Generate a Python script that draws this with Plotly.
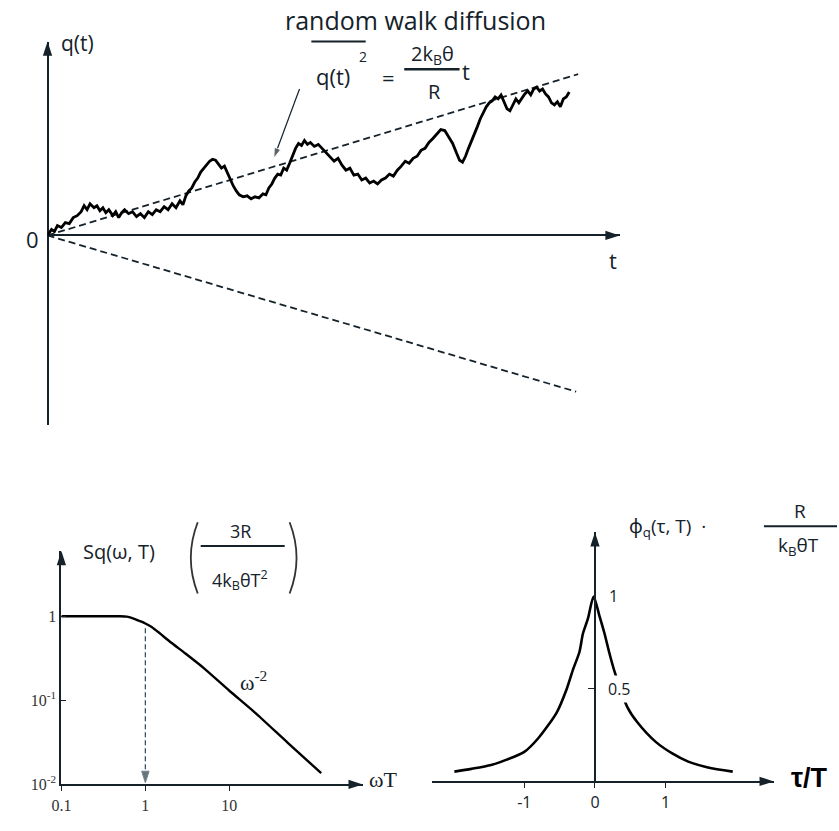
import plotly.graph_objects as go

# ---------------- data ----------------
# top panel: one realisation of the random walk q(t) (arbitrary units)
walk_t = [0, 0.4, 0.7, 1.0, 1.4, 1.8, 2.2, 2.6, 3.0, 3.4, 3.7, 4.0, 4.3, 4.7, 5.0, 5.3, 5.6, 5.9, 6.2, 6.6,
          6.9, 7.2, 7.5, 7.8, 8.2, 8.6, 9.0, 9.4, 9.8, 10.2, 10.6, 11.0, 11.4, 11.8, 12.2, 12.6, 13.0, 13.4, 13.7, 14.0,
          14.3, 14.6, 14.9, 15.2, 15.5, 15.8, 16.1, 16.4, 16.7, 17.0, 17.3, 17.6, 17.9, 18.2, 18.5, 18.8, 19.1, 19.4, 19.8, 20.2,
          20.6, 21.0, 21.4, 21.8, 22.1, 22.4, 22.7, 23.0, 23.3, 23.6, 23.9, 24.2, 24.5, 24.8, 25.1, 25.4, 25.7, 26.0, 26.3, 26.6,
          27.0, 27.4, 27.8, 28.2, 28.6, 29.0, 29.4, 29.8, 30.2, 30.6, 31.0, 31.4, 31.8, 32.2, 32.6, 33.0, 33.4, 33.8, 34.2, 34.6,
          35.0, 35.4, 35.8, 36.2, 36.6, 37.0, 37.4, 37.8, 38.2, 38.6, 39.0, 39.4, 39.8, 40.2, 40.6, 41.0, 41.4, 41.7, 42.0, 42.3,
          42.6, 42.9, 43.2, 43.5, 43.8, 44.1, 44.4, 44.7, 45.0, 45.3, 45.6, 45.9, 46.2, 46.5, 46.8, 47.1, 47.4, 47.7, 48.0, 48.3,
          48.6, 48.9, 49.2, 49.5, 49.8, 50.1, 50.4, 50.7, 51.0, 51.3, 51.6, 51.9, 52.2, 52.5, 52.8]
walk_q = [0, 0.6, 0.4, 1.0, 0.8, 1.3, 1.2, 1.8, 2.0, 2.4, 3.0, 2.6, 3.2, 2.8, 3.0, 2.5, 2.8, 2.3, 2.6, 2.0,
          2.4, 1.8, 2.3, 2.6, 2.2, 2.4, 1.9, 2.2, 1.8, 2.4, 2.1, 2.6, 2.4, 2.9, 2.6, 3.2, 2.8, 3.5, 3.1, 4.0,
          4.5, 4.8, 5.4, 5.8, 6.4, 6.8, 7.2, 7.5, 7.7, 7.6, 7.2, 6.8, 7.0, 6.3, 5.6, 5.0, 4.5, 4.1, 3.9, 4.0,
          3.7, 3.9, 3.8, 4.2, 4.1, 4.8, 5.2, 5.8, 6.2, 6.1, 6.8, 6.6, 7.3, 8.0, 8.8, 9.3, 9.1, 9.6, 9.2, 9.4,
          9.0, 9.2, 8.8, 8.3, 8.0, 7.5, 7.8, 7.1, 6.6, 6.8, 6.1, 6.2, 5.6, 5.8, 5.3, 5.5, 5.2, 5.6, 5.8, 6.2,
          6.0, 6.6, 7.0, 7.5, 7.3, 7.8, 8.0, 8.6, 8.8, 9.4, 9.8, 10.3, 10.7, 10.6, 10.0, 9.3, 8.3, 7.6, 7.4, 8.0,
          8.8, 9.5, 10.2, 11.0, 11.8, 12.4, 13.0, 13.4, 13.6, 14.0, 13.8, 14.2, 13.5, 12.8, 12.6, 13.2, 13.8, 13.4, 13.9, 14.3,
          14.6, 14.2, 14.8, 15.0, 14.6, 14.8, 14.3, 14.0, 13.4, 13.2, 13.5, 13.0, 13.8, 14.0, 14.5]
# diffusion envelopes as drawn (straight dashed lines)
env_up_t = [0, 53.7]
env_up_q = [0, 16.3]
env_dn_t = [0, 53.5]
env_dn_q = [0, -15.8]
# pointer from the formula to the envelope
pointer_t = [25.5, 22.9]
pointer_q = [14.8, 7.8]
top_t_range = [0, 57.9]
top_q_range = [-19.2, 19.6]

# bottom-left: spectral density S_q(omega, T), normalised, log-log
spec_w = [0.1, 0.3, 0.5, 0.6, 0.7, 0.8, 0.9, 1.0, 1.2, 1.5, 2.0, 3.0, 5.0, 10, 20, 50, 124]
spec_s = [1.0, 1.0, 1.0, 0.99, 0.95, 0.9, 0.86, 0.82, 0.74, 0.62, 0.49, 0.36, 0.24, 0.13, 0.072, 0.031, 0.0136]
corner_w = [1, 1]
corner_s = [0.72, 0.0105]
spec_w_ticks = [0.1, 1, 10]
spec_w_labels = ["0.1", "1", "10"]
spec_s_ticks = [0.01, 0.1, 1]
spec_s_labels = ["10<sup>-2</sup>", "10<sup>-1</sup>", "1"]
spec_logw_range = [-1, 2.588]
spec_logs_range = [-2, 0.776]

# bottom-right: correlation function phi_q(tau, T) normalised
corr_tau = [-1.99, -1.75, -1.47, -1.25, -1.0, -0.8, -0.54, -0.4, -0.31, -0.22, -0.17, -0.1, -0.02,
            0.06, 0.135, 0.2, 0.275, 0.46, 0.6, 0.86, 1.1, 1.32, 1.6, 1.95]
corr_phi = [0.053, 0.068, 0.089, 0.118, 0.16, 0.235, 0.374, 0.5, 0.606, 0.7, 0.80, 0.88, 1.0,
            0.9, 0.80, 0.70, 0.597, 0.401, 0.32, 0.214, 0.15, 0.107, 0.075, 0.053]
corr_tau_ticks = [-1, 0, 1]
corr_tau_labels = ["-1", "0", "1"]
corr_tau_range = [-2.308, 2.531]
corr_phi_range = [0, 1.348]

# ---------------- figure ----------------
W, H = 839, 831
INK = "#15222a"
SANS = "Open Sans, Noto Sans, sans-serif"
SERIF = "Liberation Serif, DejaVu Serif, serif"


def px(x):
    return x / W


def py(y):
    return 1 - y / H


fig = go.Figure()

dash = dict(color=INK, width=1.8, dash="7px,4px")
fig.add_trace(go.Scatter(x=env_up_t, y=env_up_q, mode="lines", line=dash, xaxis="x", yaxis="y"))
fig.add_trace(go.Scatter(x=env_dn_t, y=env_dn_q, mode="lines", line=dash, xaxis="x", yaxis="y"))
fig.add_trace(go.Scatter(x=walk_t, y=walk_q, mode="lines",
                         line=dict(color="#000000", width=2.8), xaxis="x", yaxis="y"))
fig.add_trace(go.Scatter(x=pointer_t, y=pointer_q, mode="lines+markers",
                         line=dict(color=INK, width=1.2),
                         marker=dict(symbol="arrow", size=[0, 11], angleref="previous", color=INK),
                         cliponaxis=False, xaxis="x", yaxis="y"))

fig.add_trace(go.Scatter(x=spec_w, y=spec_s, mode="lines",
                         line=dict(color="#000000", width=2.4, shape="spline", smoothing=0.6),
                         xaxis="x2", yaxis="y2"))
fig.add_trace(go.Scatter(x=corner_w, y=corner_s, mode="lines+markers",
                         line=dict(color="#3a4f5c", width=1.3, dash="5px,3px"),
                         marker=dict(symbol="arrow", size=[0, 12], angleref="previous", color="#2a3a44"),
                         cliponaxis=False, xaxis="x2", yaxis="y2"))

fig.add_trace(go.Scatter(x=corr_tau, y=corr_phi, mode="lines",
                         line=dict(color="#000000", width=2.6, shape="spline", smoothing=0.7),
                         xaxis="x3", yaxis="y3"))

# axis arrowheads placed at the ends of each axis range
arrow_mk = dict(symbol="arrow", size=15, color=INK, line=dict(width=0))
fig.add_trace(go.Scatter(x=[top_t_range[1], 0], y=[0, top_q_range[1]], mode="markers",
                         marker=dict(arrow_mk, angle=[90, 0]), cliponaxis=False, xaxis="x", yaxis="y"))
fig.add_trace(go.Scatter(x=[10 ** spec_logw_range[1], 10 ** spec_logw_range[0]],
                         y=[10 ** spec_logs_range[0], 10 ** spec_logs_range[1]], mode="markers",
                         marker=dict(arrow_mk, angle=[90, 0]), cliponaxis=False, xaxis="x2", yaxis="y2"))
fig.add_trace(go.Scatter(x=[corr_tau_range[1], 0], y=[corr_phi_range[0], corr_phi_range[1]], mode="markers",
                         marker=dict(arrow_mk, angle=[90, 0]), cliponaxis=False, xaxis="x3", yaxis="y3"))

top_dom_x = [px(38), px(617)]
top_dom_y = [py(430), py(42)]
bl_dom_x = [px(52), px(357)]
bl_dom_y = [py(793), py(557)]
br_dom_x = [px(427), px(773)]
br_dom_y = [py(790), py(538)]
br_yaxis_pos = px(592)

hidden = dict(showgrid=False, showticklabels=False, ticks="")
fig.update_layout(
    width=W, height=H, autosize=False, showlegend=False,
    margin=dict(l=0, r=0, t=0, b=0),
    paper_bgcolor="white", plot_bgcolor="white",
    font=dict(family=SANS, color=INK),
    xaxis=dict(domain=top_dom_x, range=top_t_range, anchor="y", zeroline=True,
               zerolinecolor=INK, zerolinewidth=2, showline=False, **hidden),
    yaxis=dict(domain=top_dom_y, range=top_q_range, anchor="x", zeroline=True,
               zerolinecolor=INK, zerolinewidth=2, showline=False, **hidden),
    xaxis2=dict(domain=bl_dom_x, type="log", range=spec_logw_range, anchor="y2",
                showline=True, linecolor=INK, linewidth=2, showgrid=False, zeroline=False,
                ticks="outside", ticklen=5, tickwidth=1.3, tickcolor=INK,
                tickvals=spec_w_ticks, ticktext=spec_w_labels,
                tickfont=dict(family=SERIF, size=16, color="#333")),
    yaxis2=dict(domain=bl_dom_y, type="log", range=spec_logs_range, anchor="x2",
                showline=True, linecolor=INK, linewidth=2, showgrid=False, zeroline=False,
                ticks="inside", ticklen=5, tickwidth=1.3, tickcolor=INK,
                tickvals=spec_s_ticks, ticktext=spec_s_labels,
                tickfont=dict(family=SERIF, size=16, color="#333")),
    xaxis3=dict(domain=br_dom_x, range=corr_tau_range, anchor="y3",
                showline=True, linecolor=INK, linewidth=2, showgrid=False, zeroline=False,
                ticks="outside", ticklen=5, tickwidth=1.3, tickcolor=INK,
                tickvals=corr_tau_ticks, ticktext=corr_tau_labels,
                tickfont=dict(family=SANS, size=16, color=INK)),
    yaxis3=dict(domain=br_dom_y, range=corr_phi_range, anchor="free", position=br_yaxis_pos,
                side="right", showline=True, linecolor=INK, linewidth=1.6, showgrid=False,
                zeroline=False, ticks="inside", ticklen=6, tickwidth=1.3, tickcolor=INK,
                tickvals=[0.5], showticklabels=False),
)

ann = []


def label(x, y, text, size, family=SANS, xanchor="center", yanchor="middle", **kw):
    ann.append(dict(x=px(x), y=py(y), xref="paper", yref="paper", text=text, showarrow=False,
                    xanchor=xanchor, yanchor=yanchor,
                    font=dict(family=family, size=size, color=kw.pop("color", INK)), **kw))


# top panel texts
label(68, 43, "q(t)", 21)
label(23, 242, "0", 22)
label(610, 263, "t", 22)
label(410, 20, "random walk diffusion", 25)
label(327, 77, "q(t)", 22)
label(357, 57, "2", 14)
label(383, 78, "=", 22)
label(428, 55, "2k<sub>B</sub>θ", 20)
label(430, 92, "R", 20)
label(462, 72, "t", 22)

# bottom-left texts
label(110, 558, "Sq(ω, T)", 20)
label(233, 537, "3R", 18)
label(233, 586, "4k<sub>B</sub>θT<sup>2</sup>", 18)
label(231, 688, "ω<sup>-2</sup>", 22, family=SERIF, xanchor="left")
label(378, 788, "ωT", 22, family=SERIF)

# bottom-right texts
label(624, 533, "ϕ<sub>q</sub>(τ, T)  ·", 19, xanchor="left")
label(800, 517, "R", 19)
label(798, 552, "k<sub>B</sub>θT", 19)
label(809, 787, "<b>τ/T</b>", 27, family="Liberation Sans, Arial, sans-serif", color="#000")
label(604, 603, "1", 16, xanchor="left")
label(602, 697, "0.5", 16, xanchor="left", bgcolor="white", borderpad=2)

fig.update_layout(annotations=ann)


def paren(x0, xc, y0, y1):
    return "M {a},{b} Q {c},{d} {a},{e}".format(a=px(x0), b=py(y0), c=px(xc), d=py((y0 + y1) / 2), e=py(y1))


# fraction bars, overline and the big parentheses (typographic strokes)
shapes = [
    dict(type="line", xref="paper", yref="paper", x0=px(305), x1=px(360), y0=py(42), y1=py(42),
         line=dict(color=INK, width=2)),
    dict(type="line", xref="paper", yref="paper", x0=px(399), x1=px(455), y0=py(70), y1=py(70),
         line=dict(color=INK, width=2.5)),
    dict(type="line", xref="paper", yref="paper", x0=px(193), x1=px(278), y0=py(552), y1=py(552),
         line=dict(color=INK, width=2)),
    dict(type="line", xref="paper", yref="paper", x0=px(763), x1=px(837), y0=py(532), y1=py(532),
         line=dict(color=INK, width=2)),
    dict(type="path", xref="paper", yref="paper", path=paren(190, 176, 528, 600),
         line=dict(color="#333", width=1.8)),
    dict(type="path", xref="paper", yref="paper", path=paren(283, 297, 528, 600),
         line=dict(color="#333", width=1.8)),
]
fig.update_layout(shapes=shapes)

fig.write_html("out.html", config={"displayModeBar": False},
               post_script="document.body.style.margin='0';")
